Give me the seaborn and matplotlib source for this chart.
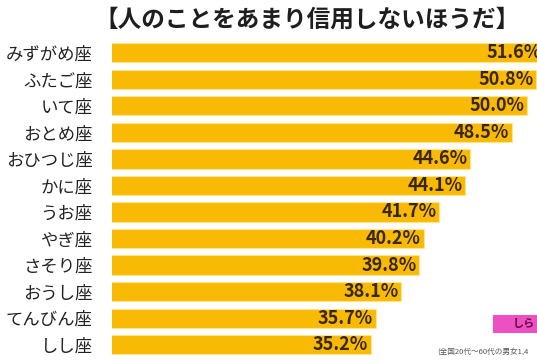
import matplotlib
matplotlib.use('Agg')
import matplotlib.pyplot as plt
import seaborn as sns
import pandas as pd
from matplotlib.patches import Rectangle

signs = ['みずがめ座', 'ふたご座', 'いて座', 'おとめ座', 'おひつじ座', 'かに座',
         'うお座', 'やぎ座', 'さそり座', 'おうし座', 'てんびん座', 'しし座']
percent = [51.6, 50.8, 50.0, 48.5, 44.6, 44.1, 41.7, 40.2, 39.8, 38.1, 35.7, 35.2]

title = '【人のことをあまり信用しないほうだ】'
source = '(全国20代〜60代の男女1,4'

df = pd.DataFrame({'sign': signs, 'percent': percent})

sns.set_theme(style='white')
plt.rcParams['font.family'] = ['Noto Sans CJK JP', 'DejaVu Sans']

fig = plt.figure(figsize=(5.37, 3.64), dpi=100)
ax = fig.add_axes([0.2086, 0.017, 0.7914, 0.874])

sns.barplot(data=df, x='percent', y='sign', orient='h', color='#F8BA05',
            width=0.72, edgecolor='#FDE58C', linewidth=0.8, saturation=1, ax=ax)

for i, v in enumerate(percent):
    ax.text(v - 0.25, i, f'{v:.1f}%', ha='right', va='center', fontsize=13,
            fontweight='bold', color='#3A2712')

ax.set_xlim(10.8, 50.9)
ax.set_ylim(11.5, -0.5)
ax.set_xlabel('')
ax.set_ylabel('')
ax.set_xticks([])
ax.tick_params(axis='y', length=0, pad=14, labelsize=12.5, labelcolor='#222222')
for s in ax.spines.values():
    s.set_visible(False)

fig.text(0.572, 0.945, title, ha='center', va='center', fontsize=17,
         fontweight='bold', color='#1E1E1E')

# logo box and source note, bottom right
fig.patches.append(Rectangle((0.918, 0.085), 0.09, 0.05, transform=fig.transFigure,
                             facecolor='#EE4FC2', edgecolor='none'))
fig.text(0.955, 0.11, 'しら', ha='left', va='center', fontsize=8,
         fontweight='bold', color='#5A1040')
fig.text(0.815, 0.033, source, ha='left', va='center', fontsize=5.5, color='#555555')

fig.savefig('out.png', dpi=100)
